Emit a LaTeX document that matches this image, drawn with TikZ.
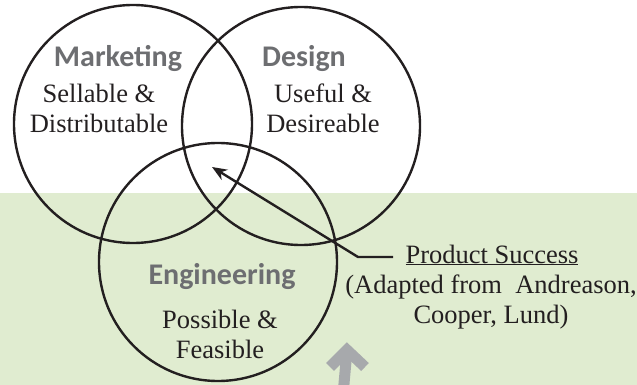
\documentclass[tikz,border=0pt]{standalone}
\usepackage{fontspec}
\setmainfont{Liberation Serif}
\newfontfamily\calibrifont{Carlito}
\usetikzlibrary{arrows.meta}

\definecolor{bggreen}{RGB}{224,236,208}
\definecolor{titlegray}{RGB}{109,110,113}
\definecolor{inkblack}{RGB}{35,31,32}
\definecolor{arrowgray}{RGB}{167,169,172}

\begin{document}
\begin{tikzpicture}[
  x=1pt, y=-1pt,
  venn/.style={circle, draw=inkblack, line width=2.4pt, minimum size=238pt, inner sep=0pt},
  area/.style={font=\calibrifont\bfseries\fontsize{30}{32}\selectfont, text=titlegray, inner sep=0pt, anchor=base},
  desc/.style={font=\fontsize{26.5}{30}\selectfont, text=inkblack, align=center, inner sep=0pt, anchor=base},
  pointer/.style={draw=inkblack, line width=2.4pt, -{Stealth[length=15pt, width=12pt]}},
  bigarrow/.style={draw=arrowgray, line width=11pt}
]
  \useasboundingbox (0,0) rectangle (637,385);

  % lower band
  \fill[bggreen] (0,193) rectangle (637,385);

  % the three circles
  \node[venn] (marketing) at (133,124) {};
  \node[venn] (design) at (301,126) {};
  \node[venn] (engineering) at (218,262) {};

  % headings
  \node[area] (mkt title) at (118,67) {Marketing};
  \node[area] (des title) at (304,67) {Design};
  \node[area] (eng title) at (222,284) {Engineering};

  % what each circle stands for (base = last line)
  \node[desc] (mkt text) at (99,133) {Sellable \&\\Distributable};
  \node[desc] (des text) at (323,133) {Useful \&\\Desireable};
  \node[desc] (eng text) at (220,358) {Possible \&\\Feasible};

  % overlap label
  \node[desc] (success) at (492,263) {\underline{Product Success}};
  \node[desc] (source) at (491,323) {(Adapted from\ \ Andreason,\\Cooper, Lund)};

  \coordinate (hit) at (212,167);
  \coordinate (bend) at (358,257);
  \coordinate (tail) at (393,257);
  \draw[pointer] (tail) -- (bend) -- (hit);

  % grey arrow at the bottom
  \coordinate (arrow foot) at (343,395);
  \coordinate (arrow tip) at (347,350);
  \coordinate (wing left) at (330,367);
  \coordinate (wing right) at (365,367);
  \draw[bigarrow] (arrow foot) -- (arrow tip);
  \draw[bigarrow, miter limit=4] (wing left) -- (arrow tip) -- (wing right);
\end{tikzpicture}
\end{document}
